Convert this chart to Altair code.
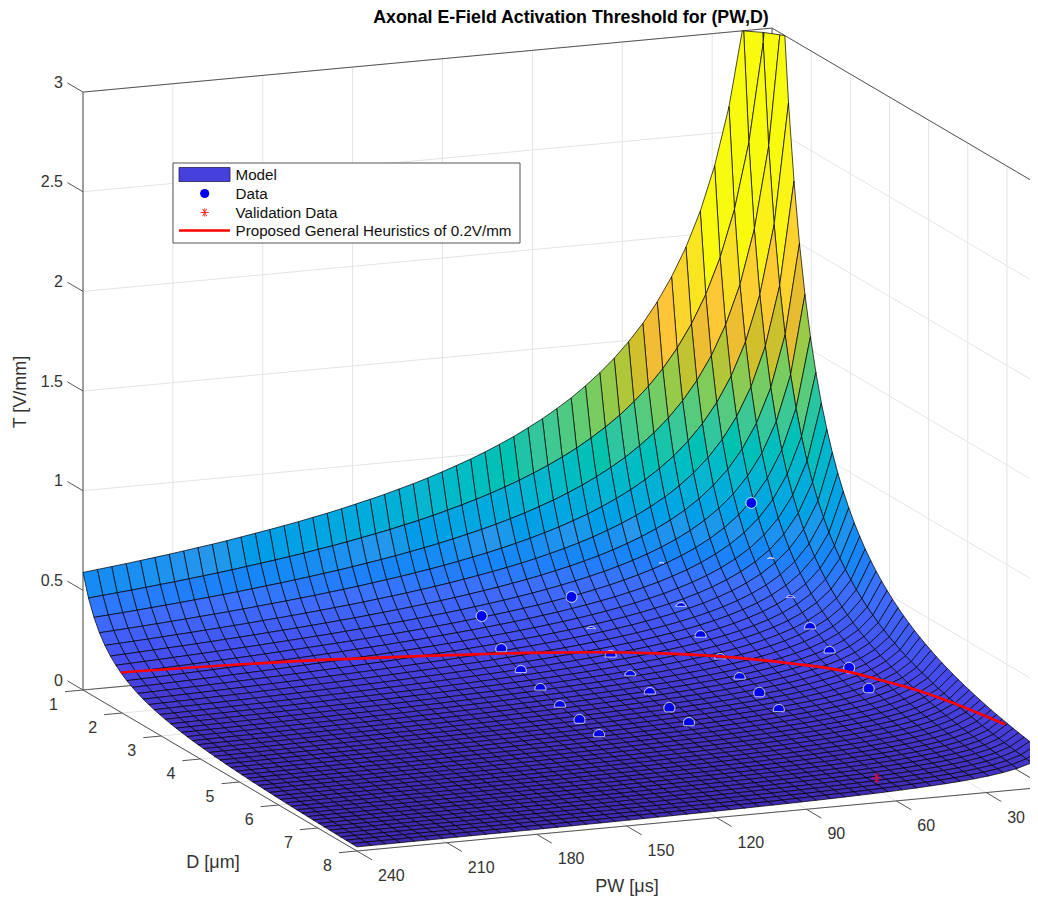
import altair as alt
import pandas as pd

FONT = "Liberation Sans"

# ---- values -----------------------------------------------------------------
PW_GRID = [10, 14.79, 19.58, 24.38, 29.17, 33.96, 38.75, 43.54, 48.33, 53.13, 57.92, 62.71, 67.5,
           72.29, 77.08, 81.88, 86.67, 91.46, 96.25, 101.04, 105.83, 110.63, 115.42, 120.21, 125,
           129.79, 134.58, 139.38, 144.17, 148.96, 153.75, 158.54, 163.33, 168.13, 172.92, 177.71,
           182.5, 187.29, 192.08, 196.88, 201.67, 206.46, 211.25, 216.04, 220.83, 225.63, 230.42,
           235.21, 240]
# threshold along the D = 1 edge of the surface, one value per PW_GRID entry
T_AT_D1 = [4.70, 3.640, 3.031, 2.626, 2.336, 2.115, 1.941, 1.799, 1.680, 1.579, 1.493, 1.417, 1.351,
           1.292, 1.238, 1.191, 1.147, 1.108, 1.071, 1.038, 1.007, .978, .952, .927, .903,
           .881, .861, .841, .823, .806, .789, .773, .759, .744, .731, .718,
           .706, .694, .682, .671, .661, .651, .641, .632, .623, .614, .606,
           .598, .590]
D_GRID = [1.00, 1.14, 1.28, 1.42, 1.56, 1.70, 1.84, 1.98, 2.12, 2.26, 2.40, 2.54, 2.68, 2.82, 2.96,
          3.10, 3.24, 3.38, 3.52, 3.66, 3.80, 3.94, 4.08, 4.22, 4.36, 4.50, 4.64, 4.78, 4.92, 5.06,
          5.20, 5.34, 5.48, 5.62, 5.76, 5.90, 6.04, 6.18, 6.32, 6.46, 6.60, 6.74, 6.88, 7.02, 7.16,
          7.30, 7.44, 7.58, 7.72, 7.86, 8.00]
# relative drop of the threshold with D, one value per D_GRID entry
D_FACTOR = [1, .8098, .6720, .5686, .4887, .4256, .3747, .3329, .2983, .2690, .2443, .2230, .2045,
            .1884, .1743, .1617, .1507, .1407, .1318, .1238, .1166, .1100, .1040, .0985, .0934,
            .0888, .0845, .0806, .0769, .0735, .0703, .0674, .0646, .0621, .0597, .0574, .0553,
            .0533, .0514, .0496, .0479, .0463, .0448, .0434, .0420, .0407, .0395, .0383, .0372,
            .0362, .0352]

DATA_PW = [120] * 7 + [90] * 7 + [60] * 7 + [30] * 7
DATA_D = [2, 2.5, 3, 3.5, 4, 4.5, 5] * 4
DATA_T = [.319, .211, .159, .126, .098, .086, .068,
          .373, .255, .192, .150, .122, .104, .087,
          .476, .333, .250, .193, .155, .138, .110,
          .761, .517, .384, .307, .244, .222, .174]
# how far down each marker shows above the surface (1 = the whole marker)
DATA_SHOWN = [1, .5, .3, .2, .2, .6, .3,
              1, -.6, .2, 0, .2, .7, .5,
              -.9, -.3, .2, 0, .2, .7, .3,
              1, -.8, -.6, .2, .2, 1, .7]

VALID_PW = [60]
VALID_D = [7.5]
VALID_T = [.057]

HEUR_PW = [240, 182, 134, 113.6, 94, 75.6, 59.8, 42.4, 29.7, 25.2, 19.6, 15.4, 10.7]
HEUR_D = [1.97, 2.17, 2.49, 2.65, 2.86, 3.13, 3.45, 3.97, 4.50, 4.88, 5.38, 5.97, 7.00]

T_TICKS = [0, .5, 1, 1.5, 2, 2.5, 3]
T_LABELS = ["0", "0.5", "1", "1.5", "2", "2.5", "3"]
PW_TICKS = [30, 60, 90, 120, 150, 180, 210, 240]
D_TICKS = [1, 2, 3, 4, 5, 6, 7, 8]

LEGEND_LABELS = ["Model", "Data", "Validation Data", "Proposed General Heuristics of 0.2V/mm"]

PARULA_AT = [0, .22, .44, .66, .88, 1.1, 1.31, 1.52, 1.62, 1.82, 2.12]
PARULA = ["#3e26a8", "#4747eb", "#3e6fff", "#2796eb", "#08b5d0", "#31c69f", "#81cc59", "#dcbd29",
          "#fdbd3c", "#f9d82a", "#f9fb0e"]

# ---- the view: an orthographic 3D box, as the axes of the picture set it ------
PW_MAX, PW_MIN, D_MIN, D_MAX, T_MAX = 240, 10, 1, 8, 3


def sx(pw, d):
    return 83 + 2.996 * (PW_MAX - pw) + 39.14 * (d - D_MIN)


def sy(pw, d, t):
    return 690 + 23 * (d - D_MIN) - .2783 * (PW_MAX - pw) - 199.3 * t


def seg(a, b):
    return dict(x=sx(a[0], a[1]), y=sy(*a), x2=sx(b[0], b[1]), y2=sy(*b))


def clip_top(poly):
    out = []
    for k, p in enumerate(poly):
        q = poly[(k + 1) % len(poly)]
        if p[2] <= T_MAX:
            out.append(p)
        if (p[2] <= T_MAX) != (q[2] <= T_MAX):
            f = (T_MAX - p[2]) / (q[2] - p[2])
            out.append(tuple(p[n] + f * (q[n] - p[n]) for n in range(3)))
    return out


features = []
for j in range(len(D_GRID) - 1):
    for i in range(len(PW_GRID) - 1):
        corners = [
            (pw, d, T_AT_D1[m] * D_FACTOR[n])
            for pw, d, m, n in (
                (PW_GRID[i], D_GRID[j], i, j),
                (PW_GRID[i + 1], D_GRID[j], i + 1, j),
                (PW_GRID[i + 1], D_GRID[j + 1], i + 1, j + 1),
                (PW_GRID[i], D_GRID[j + 1], i, j + 1),
            )
        ]
        poly = clip_top(corners)
        if not poly:
            continue
        ring = [[round(sx(p[0], p[1]), 2), round(sy(*p), 2)] for p in poly]
        ring.append(ring[0])
        features.append({
            "type": "Feature",
            "properties": {"T": round(T_AT_D1[i + 1] * D_FACTOR[j], 4)},
            "geometry": {"type": "Polygon", "coordinates": [ring]},
        })

W, H = 1022, 888
xs = alt.Scale(domain=[8, 8 + W], nice=False, zero=False)
ys = alt.Scale(domain=[8 + H, 8], nice=False, zero=False)
X = alt.X("x:Q", scale=xs, axis=None)
Y = alt.Y("y:Q", scale=ys, axis=None)


def rules(rows, color, width):
    return alt.Chart(pd.DataFrame(rows)).mark_rule(color=color, strokeWidth=width).encode(
        x=X, y=Y, x2="x2:Q", y2="y2:Q")


def labels(rows, size=16, align="center", color="#333333", **kw):
    return alt.Chart(pd.DataFrame(rows)).mark_text(
        font=FONT, fontSize=size, align=align, baseline="middle", color=color, **kw
    ).encode(x=X, y=Y, text="t:N")


# grid of the three walls
grid = []
for pw in PW_TICKS + [240]:
    grid.append(seg((pw, D_MIN, 0), (pw, D_MIN, T_MAX)))
    grid.append(seg((pw, D_MIN, 0), (pw, D_MAX, 0)))
for d in D_TICKS:
    grid.append(seg((PW_MIN, d, 0), (PW_MIN, d, T_MAX)))
    grid.append(seg((PW_MAX, d, 0), (PW_MIN, d, 0)))
for t in T_TICKS:
    grid.append(seg((PW_MAX, D_MIN, t), (PW_MIN, D_MIN, t)))
    grid.append(seg((PW_MIN, D_MIN, t), (PW_MIN, D_MAX, t)))

box = [
    seg((PW_MAX, D_MIN, T_MAX), (PW_MIN, D_MIN, T_MAX)),
    seg((PW_MIN, D_MIN, T_MAX), (PW_MIN, D_MAX, T_MAX)),
    seg((PW_MIN, D_MIN, 0), (PW_MIN, D_MIN, T_MAX)),
    seg((PW_MAX, D_MIN, 0), (PW_MIN, D_MIN, 0)),
    seg((PW_MIN, D_MIN, 0), (PW_MIN, D_MAX, 0)),
    seg((PW_MAX, D_MIN, 0), (PW_MAX, D_MAX, 0)),
    seg((PW_MAX, D_MAX, 0), (PW_MIN, D_MAX, 0)),
    seg((PW_MAX, D_MIN, 0), (PW_MAX, D_MIN, T_MAX)),
]
ticks = []
for t in T_TICKS:
    ticks.append(seg((PW_MAX, D_MIN, t), (PW_MAX, D_MIN - .4, t)))
for d in D_TICKS:
    ticks.append(seg((PW_MAX, d, 0), (PW_MAX + 6, d, 0)))
for pw in PW_TICKS:
    ticks.append(seg((pw, D_MAX, 0), (pw, D_MAX + .385, 0)))

surface = alt.Chart(
    alt.InlineData(values={"type": "FeatureCollection", "features": features},
                   format=alt.DataFormat(property="features", type="json"))
).mark_geoshape(stroke="#000000", strokeWidth=.75, strokeOpacity=.95).encode(
    color=alt.Color("properties.T:Q", legend=None,
                    scale=alt.Scale(domain=PARULA_AT, range=PARULA, clamp=True))
).project(type="identity", scale=1, translate=[-8, -8])


# markers partly sunk into the surface
def dome(c, closed):
    if c >= 1:
        return "M-1,0A1,1 0 1 1 1,0A1,1 0 1 1 -1,0" + ("Z" if closed else "")
    h = (1 - c * c) ** .5
    large = 1 if c > 0 else 0
    return f"M{-h:.3f},{c}A1,1 0 {large} 1 {h:.3f},{c}" + ("Z" if closed else "")


points = pd.DataFrame({
    "x": [sx(p, d) for p, d in zip(DATA_PW, DATA_D)],
    "y": [sy(p, d, t) for p, d, t in zip(DATA_PW, DATA_D, DATA_T)],
    "shown": [str(c) for c in DATA_SHOWN],
})
levels = sorted(set(DATA_SHOWN))
dom = [str(c) for c in levels]
fill_shape = alt.Shape("shown:N", legend=None,
                       scale=alt.Scale(domain=dom, range=[dome(c, True) for c in levels]))
ring_shape = alt.Shape("shown:N", legend=None,
                       scale=alt.Scale(domain=dom, range=[dome(c, False) for c in levels]))
point_fill = alt.Chart(points).mark_point(filled=True, color="#0000f0", opacity=1, size=90,
                                          strokeWidth=0).encode(x=X, y=Y, shape=fill_shape)
point_ring = alt.Chart(points).mark_point(filled=False, color="#dfe6ff", opacity=1, size=125,
                                          strokeWidth=.8).encode(x=X, y=Y, shape=ring_shape)

ASTERISK = "M-1,0L1,0M-0.5,-0.87L0.5,0.87M-0.5,0.87L0.5,-0.87M0,-1L0,1"
valid = pd.DataFrame({
    "x": [sx(p, d) for p, d in zip(VALID_PW, VALID_D)],
    "y": [sy(p, d, t) for p, d, t in zip(VALID_PW, VALID_D, VALID_T)],
})
valid_mark = alt.Chart(valid).mark_point(shape=ASTERISK, filled=False, color="#e0103a", opacity=1,
                                         size=90, strokeWidth=1).encode(x=X, y=Y)

heur = pd.DataFrame({
    "x": [sx(p, d) for p, d in zip(HEUR_PW, HEUR_D)],
    "y": [sy(p, d, .2) for p, d in zip(HEUR_PW, HEUR_D)],
    "i": list(range(len(HEUR_PW))),
})
heur_line = alt.Chart(heur).mark_line(color="#ff0000", strokeWidth=2.6, interpolate="monotone").encode(
    x=X, y=Y, order="i:Q")

# tick labels and axis titles
t_text = labels([dict(x=63, y=sy(PW_MAX, D_MIN, t) - 9.5, t=s) for t, s in zip(T_TICKS, T_LABELS)],
                align="right")
d_text = labels([dict(x=sx(PW_MAX, d) - 29.5, y=sy(PW_MAX, d, 0) + 14.5, t=str(d)) for d in D_TICKS])
pw_text = labels([dict(x=sx(pw, D_MAX) + 21, y=sy(pw, D_MAX, 0) + 25, t=str(pw)) for pw in PW_TICKS],
                 align="left")
t_title = labels([dict(x=21, y=392, t="T [V/mm]")], size=18, angle=270)
d_title = labels([dict(x=213, y=863, t="D [\u03bcm]")], size=18)
pw_title = labels([dict(x=627, y=887, t="PW [\u03bcs]")], size=18)

# legend
LEG_ROW = [175, 193.5, 212.5, 231]
legend_box = alt.Chart(pd.DataFrame([dict(x=173, x2=520, y=163, y2=243)])).mark_rect(
    fill="white", stroke="#555555", strokeWidth=1).encode(x=X, x2="x2:Q", y=Y, y2="y2:Q")
legend_swatch = alt.Chart(pd.DataFrame([dict(x=179, x2=230, y=167.5, y2=181.5)])).mark_rect(
    fill="#4640dc", stroke="#222255", strokeWidth=.8).encode(x=X, x2="x2:Q", y=Y, y2="y2:Q")
legend_dot = alt.Chart(pd.DataFrame([dict(x=204.7, y=LEG_ROW[1])])).mark_point(
    shape="circle", filled=True, color="#0000f0", size=85, opacity=1).encode(x=X, y=Y)
legend_star = alt.Chart(pd.DataFrame([dict(x=204.7, y=LEG_ROW[2])])).mark_point(
    shape=ASTERISK, filled=False, color="#ff2020", size=70, strokeWidth=.9, opacity=1).encode(x=X, y=Y)
legend_line = rules([dict(x=179, y=LEG_ROW[3] - .5, x2=230, y2=LEG_ROW[3] - .5)], "#ff0000", 2.6)
legend_text = labels([dict(x=235.5, y=r, t=s) for r, s in zip(LEG_ROW, LEGEND_LABELS)],
                     size=15.2, align="left", color="#111111")

chart = alt.layer(
    rules(grid, "#e4e4e4", 1),
    rules(box, "#555555", 1),
    rules(ticks, "#555555", 1),
    surface,
    point_fill,
    point_ring,
    valid_mark,
    heur_line,
    t_text, d_text, pw_text, t_title, d_title, pw_title,
    legend_box, legend_swatch, legend_dot, legend_star, legend_line, legend_text,
).properties(
    width=W, height=H,
    padding=0,
    autosize=alt.AutoSizeParams(type="none"),
    title=alt.TitleParams(
        "Axonal E-Field Activation Threshold for (PW,D)",
        font=FONT, fontSize=17.8, fontWeight="bold", color="#000000",
        anchor="middle", dx=52, offset=-19,
    ),
).configure_view(stroke=None)

chart.save("out.html", embed_options={"renderer": "svg", "actions": False})
